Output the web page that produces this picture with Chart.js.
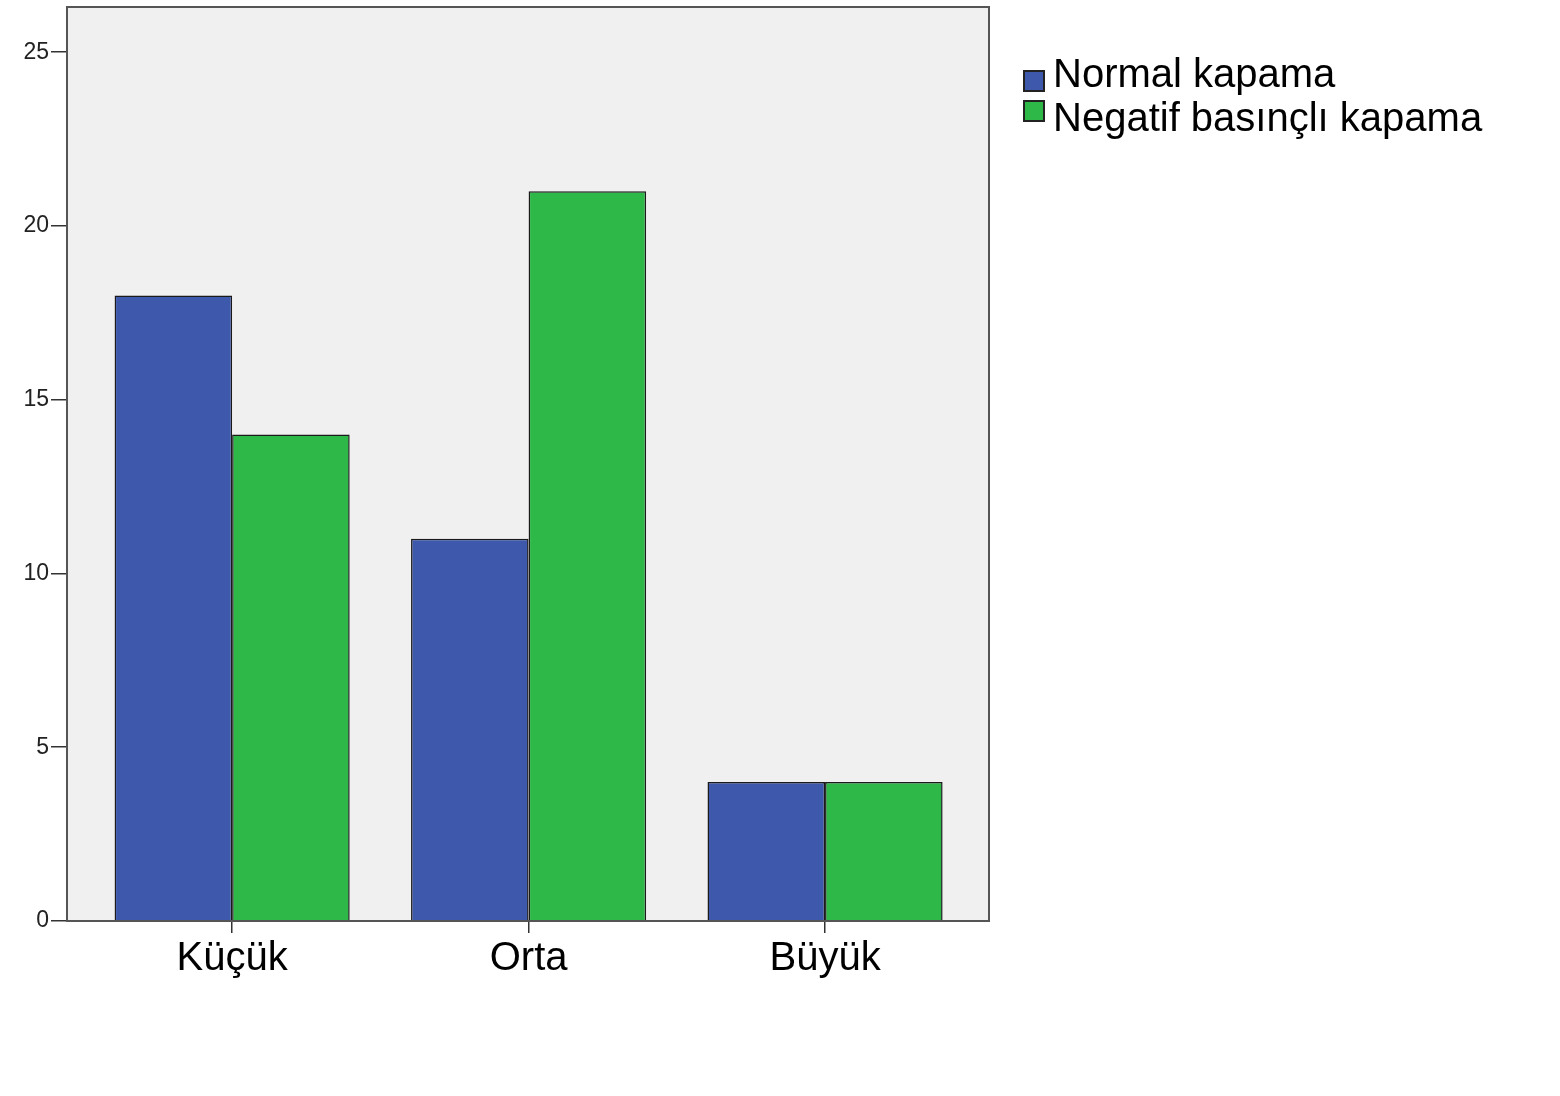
<!DOCTYPE html>
<html>
<head>
<meta charset="utf-8">
<script src="https://cdn.jsdelivr.net/npm/chart.js@4/dist/chart.umd.min.js"></script>
<style>
  html, body { margin: 0; padding: 0; background: #ffffff; }
  #wrap { position: relative; width: 1560px; height: 1096px; }
  .txt { position: absolute; left: 1053px; font-family: Arial, "Liberation Sans", sans-serif; font-size: 40px; line-height: 40px; color: #000; white-space: nowrap; }
  .box { position: absolute; left: 1023px; width: 22px; height: 22px; border: 2px solid #222; box-sizing: border-box; }
</style>
</head>
<body>
<div id="wrap">
  <canvas id="c" width="1560" height="1096"></canvas>
  <div id="legend"></div>
</div>
<script>
const categories = ["Küçük", "Orta", "Büyük"];
const seriesNames = ["Normal kapama", "Negatif basınçlı kapama"];
const normalValues = [18, 11, 4];
const negativeValues = [14, 21, 4];
const yTicks = [0, 5, 10, 15, 20, 25];
const colors = ["#3E58AC", "#2EB848"];

const frame = {
  id: 'frame',
  beforeDatasetsDraw(chart) {
    const a = chart.chartArea, ctx = chart.ctx;
    ctx.save();
    ctx.fillStyle = '#F0F0F0';
    ctx.fillRect(a.left, a.top, a.right - a.left, a.bottom - a.top);
    ctx.restore();
  },
  afterDatasetsDraw(chart) {
    const a = chart.chartArea, ctx = chart.ctx;
    ctx.save();
    ctx.strokeStyle = '#555';
    ctx.lineWidth = 2;
    ctx.strokeRect(a.left, a.top, a.right - a.left, a.bottom - a.top);
    ctx.restore();
  }
};

const ds = [normalValues, negativeValues].map((vals, k) => ({
  label: seriesNames[k],
  data: vals.map((v, i) => ({ x: i, y: v })),
  backgroundColor: colors[k],
  borderColor: '#1a1a1a',
  borderWidth: 1.5,
  categoryPercentage: 0.793,
  barPercentage: 1.0
}));

new Chart(document.getElementById('c'), {
  type: 'bar',
  data: { datasets: ds },
  options: {
    responsive: false,
    animation: false,
    layout: { padding: { top: 7, right: 571, left: 0, bottom: 0 } },
    plugins: { legend: { display: false }, tooltip: { enabled: false } },
    scales: {
      x: {
        type: 'linear',
        offset: false,
        min: -0.557,
        max: 2.553,
        afterBuildTicks(scale) { scale.ticks = categories.map((c, i) => ({ value: i })); },
        afterFit(scale) { scale.height = 175; scale.paddingLeft = 0; scale.paddingRight = 0; },
        grid: { display: true, offset: false, drawOnChartArea: false, tickLength: 12, color: '#333', lineWidth: 1.5 },
        border: { display: false },
        ticks: {
          autoSkip: false,
          maxRotation: 0,
          padding: 2,
          color: '#000',
          font: { family: 'Arial, "Liberation Sans", sans-serif', size: 40 },
          callback: (v) => categories[v]
        }
      },
      y: {
        min: 0,
        max: 26.3,
        afterBuildTicks(scale) { scale.ticks = yTicks.map(v => ({ value: v })); },
        afterFit(scale) { scale.width = 67; scale.paddingTop = 0; scale.paddingBottom = 0; },
        grid: { display: true, drawOnChartArea: false, tickLength: 16, color: '#333', lineWidth: 1.5 },
        border: { display: false },
        ticks: {
          padding: 2,
          color: '#222',
          font: { family: 'Arial, "Liberation Sans", sans-serif', size: 23 }
        }
      }
    }
  },
  plugins: [frame]
});

const leg = document.getElementById('legend');
const boxTops = [70, 100];
const textTops = [53, 97];
seriesNames.forEach((n, k) => {
  const b = document.createElement('div');
  b.className = 'box';
  b.style.top = boxTops[k] + 'px';
  b.style.background = colors[k];
  const t = document.createElement('div');
  t.className = 'txt';
  t.style.top = textTops[k] + 'px';
  t.textContent = n;
  leg.appendChild(b); leg.appendChild(t);
});
</script>
</body>
</html>
